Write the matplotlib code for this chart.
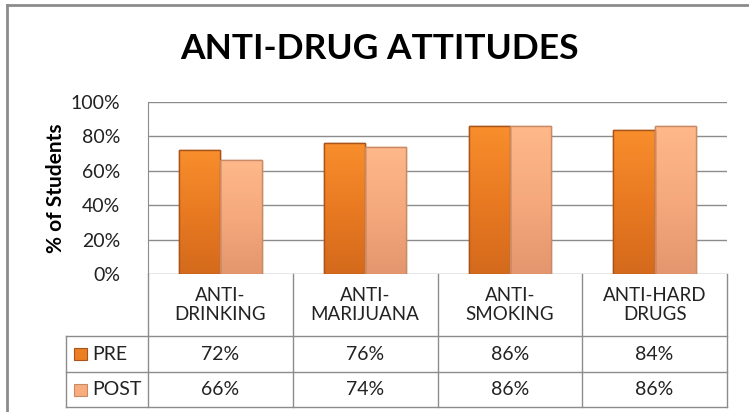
import matplotlib
matplotlib.use("Agg")
import matplotlib.pyplot as plt
from matplotlib.lines import Line2D
from matplotlib.patches import Rectangle
from matplotlib.colors import LinearSegmentedColormap
import numpy as np

categories = ["ANTI-\nDRINKING", "ANTI-\nMARIJUANA", "ANTI-\nSMOKING", "ANTI-HARD\nDRUGS"]
series_names = ["PRE", "POST"]
pre = [72, 76, 86, 84]
post = [66, 74, 86, 86]
yticks = [0, 20, 40, 60, 80, 100]
title = "ANTI-DRUG ATTITUDES"
ylabel = "% of Students"

FONT = "Lato"
W, H = 749, 412
fig = plt.figure(figsize=(W / 100, H / 100), dpi=100)
fig.patch.set_facecolor("white")

def fx(px):
    return px / W

def fy(py):
    return 1 - py / H

# outer frame (cut at right/bottom)
fig.add_artist(Line2D([fx(7), fx(7)], [fy(5), fy(412)], color="#8c8c8c", lw=2))
fig.add_artist(Line2D([fx(7), fx(749)], [fy(5), fy(5)], color="#8c8c8c", lw=2))

left, right, top, bottom = 148, 727, 102, 274
ax = fig.add_axes([fx(left), fy(bottom), fx(right - left), (bottom - top) / H])
n = len(categories)
x = np.arange(n)
bw = 0.285
c_pre, c_post = "#EC7E24", "#F7AD7E"
e_pre, e_post = "#A9541A", "#C98A66"
grad_pre = LinearSegmentedColormap.from_list("gp", ["#D46A1C", "#E97A22", "#F88E2C"])
grad_post = LinearSegmentedColormap.from_list("gq", ["#E4966E", "#F5A97C", "#FEB88A"])
ax.set_xlim(-0.5, n - 0.5)
ax.set_ylim(0, 100)
for vals, off, c, e, cmap in [(pre, -bw / 2, c_pre, e_pre, grad_pre),
                              (post, bw / 2, c_post, e_post, grad_post)]:
    bars = ax.bar(x + off, vals, bw, color=c, edgecolor=e, lw=1, zorder=3)
    for b in bars:
        x0, w, h = b.get_x(), b.get_width(), b.get_height()
        grad = np.linspace(0, 1, 100).reshape(-1, 1)
        im = ax.imshow(grad, extent=[x0, x0 + w, 0, h], origin="lower", cmap=cmap,
                       aspect="auto", zorder=3.5, interpolation="bicubic")
        im.set_clip_path(b)
        ax.add_patch(Rectangle((x0, 0), w, h, fill=False, edgecolor=e, lw=1, zorder=4))
ax.set_xlim(-0.5, n - 0.5)
ax.set_ylim(0, 100)
ax.set_yticks(yticks)
ax.set_yticklabels([f"{v}%" for v in yticks], fontsize=14, family=FONT, color="#222222")
ax.tick_params(axis="y", length=0, pad=20)
ax.set_xticks([])
ax.grid(axis="y", color="#8c8c8c", lw=1, zorder=0)
for s in ["top", "right", "bottom"]:
    ax.spines[s].set_visible(False)
ax.spines["left"].set_color("#8c8c8c")
ax.set_ylabel(ylabel, fontsize=15, fontweight="bold", family=FONT, labelpad=3)

fig.text(fx(379), fy(49), title, fontsize=25.5, fontweight="bold", family=FONT,
         ha="center", va="center", color="black")

# data table
gc = "#8c8c8c"
row_y = [274, 336, 372, 407]
leg_left = 66
col_x = [left + (right - left) * i / n for i in range(n + 1)]
for yy in row_y[1:]:
    fig.add_artist(Line2D([fx(leg_left), fx(right)], [fy(yy), fy(yy)], color=gc, lw=1))
fig.add_artist(Line2D([fx(leg_left), fx(leg_left)], [fy(336), fy(407)], color=gc, lw=1))
for cx in col_x:
    fig.add_artist(Line2D([fx(cx), fx(cx)], [fy(274), fy(407)], color=gc, lw=1))

for i, cat in enumerate(categories):
    cx = (col_x[i] + col_x[i + 1]) / 2
    fig.text(fx(cx), fy(305), cat, ha="center", va="center", fontsize=13.5,
             family=FONT, color="#222222", linespacing=1.2)
    for r, vals in enumerate([pre, post]):
        yy = (row_y[r + 1] + row_y[r + 2]) / 2
        fig.text(fx(cx), fy(yy), f"{vals[i]}%", ha="center", va="center",
                 fontsize=14, family=FONT, color="#222222")

for r, (name, c, e) in enumerate(zip(series_names, [c_pre, c_post], [e_pre, e_post])):
    yy = (row_y[r + 1] + row_y[r + 2]) / 2
    fig.add_artist(Rectangle((fx(74), fy(yy + 6)), fx(13), 12 / H, facecolor=c,
                             edgecolor=e, lw=0.8))
    fig.text(fx(92), fy(yy), name, ha="left", va="center", fontsize=14,
             family=FONT, color="#222222")

fig.savefig("out.png", dpi=100, facecolor="white")
